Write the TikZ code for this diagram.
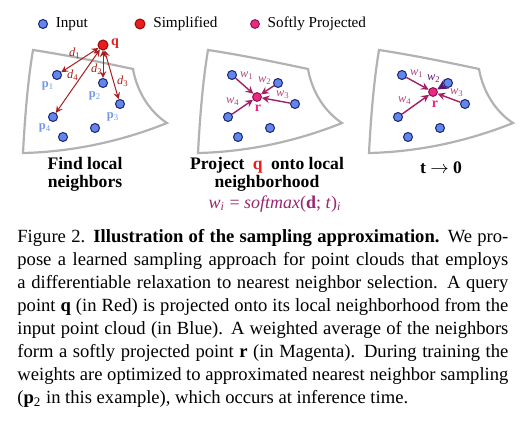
\documentclass[tikz,border=0pt]{standalone}
\usepackage{fontspec}
\setmainfont{Liberation Serif}
\usetikzlibrary{positioning}

\definecolor{ptblue}{RGB}{98,135,232}
\definecolor{ptedge}{RGB}{25,35,120}
\definecolor{qred}{RGB}{232,30,30}
\definecolor{qedge}{RGB}{150,10,10}
\definecolor{rmag}{RGB}{235,40,130}
\definecolor{redge}{RGB}{140,20,80}
\definecolor{patchgray}{RGB}{178,178,178}
\definecolor{dred}{RGB}{170,30,30}
\definecolor{plblue}{RGB}{110,150,232}
\definecolor{wmag}{RGB}{165,30,100}
\definecolor{wlbl}{RGB}{175,70,130}
\definecolor{wdark}{RGB}{85,25,115}
\definecolor{formula}{RGB}{150,40,110}

\begin{document}
\begin{tikzpicture}[x=0.5pt,y=-0.5pt,>=stealth,
  inpt/.style={circle,draw=ptedge,fill=ptblue,line width=0.5pt,minimum size=4.5pt,inner sep=0pt},
  qpt/.style={inpt,draw=qedge,fill=qred,minimum size=5pt},
  rpt/.style={inpt,draw=redge,fill=rmag,minimum size=4.4pt},
  patch/.style={draw=patchgray,line width=1.1pt},
  darrow/.style={<->,draw=dred,line width=0.5pt},
  warrow/.style={->,draw=wmag,line width=0.7pt},
  lbl/.style={font=\fontsize{6.2}{7}\selectfont,inner sep=0pt},
  legtxt/.style={font=\fontsize{7.6}{9}\selectfont,inner sep=0pt},
  title/.style={font=\fontsize{8.8}{9}\bfseries\selectfont,align=center,inner sep=0pt}]
  \useasboundingbox (0,0) rectangle (529,426);

  % Legend
  \node[inpt] (leg1) at (43,24) {};
  \node[legtxt,right=3.7pt of leg1] {Input};
  \node[qpt] (leg2) at (140,24) {};
  \node[legtxt,right=3.7pt of leg2] {Simplified};
  \node[rpt] (leg3) at (255,24) {};
  \node[legtxt,right=3.7pt of leg3] {Softly Projected};

  % Patches
  \foreach \dx in {0,175,346}
    \draw[patch,xshift=\dx*0.5pt] (33,50) .. controls (66,55) and (100,62) .. (133,69)
      .. controls (137,92) and (150,112) .. (167,123)
      .. controls (120,142) and (70,152) .. (23,153)
      .. controls (25,115) and (28,80) .. cycle;

  % Input points
  \foreach \s/\dx in {a/0,b/175,c/345}
    \foreach \n/\x/\y in {1/57/75,2/103/83,3/120/104,4/53/117,5/95/128,6/63/137}
      \node[inpt] (\s\n) at (\x+\dx,\y) {};

  % Find local neighbors
  \node[qpt] (q) at (103,45) {};
  \node[lbl,font=\fontsize{7}{8}\bfseries\selectfont,text=qred] at (115,44) {q};
  \draw[darrow] (q) -- (a1);
  \draw[darrow] (q) -- (a2);
  \draw[darrow] (q) -- (a3);
  \draw[darrow] (q) -- (a4);
  \node[lbl,text=dred] at (75,53) {\textit{d}\textsubscript{1}};
  \node[lbl,text=dred] at (97,69) {\textit{d}\textsubscript{2}};
  \node[lbl,text=dred] at (123,81) {\textit{d}\textsubscript{3}};
  \node[lbl,text=dred] at (73,75) {\textit{d}\textsubscript{4}};
  \node[lbl,text=plblue] at (48,86) {\textbf{p}\textsubscript{1}};
  \node[lbl,text=plblue] at (95,96) {\textbf{p}\textsubscript{2}};
  \node[lbl,text=plblue] at (113,117) {\textbf{p}\textsubscript{3}};
  \node[lbl,text=plblue] at (45,128) {\textbf{p}\textsubscript{4}};
  \node[title,anchor=north] at (85,157) {Find local\\neighbors};

  % Project q onto local neighborhood
  \node[rpt] (r1) at (257,97) {};
  \node[lbl,font=\fontsize{7}{8}\bfseries\selectfont,text=rmag] at (258,108) {r};
  \foreach \n in {1,...,4}
    \draw[warrow] (b\n) -- (r1);
  \node[lbl,text=wlbl] at (247,76) {\textit{w}\textsubscript{1}};
  \node[lbl,text=wlbl] at (265,81) {\textit{w}\textsubscript{2}};
  \node[lbl,text=wlbl] at (283,95) {\textit{w}\textsubscript{3}};
  \node[lbl,text=wlbl] at (233,102) {\textit{w}\textsubscript{4}};
  \node[title,anchor=north] at (267,157) {Project\hspace{2pt} \textcolor{qred}{q}\hspace{2pt} onto local\\neighborhood};
  \node[font=\fontsize{9}{10}\selectfont,text=formula,inner sep=0pt,anchor=base] at (275,209)
    {\textit{w}\textsubscript{\textit{i}} = \textit{softmax}(\textbf{d}; \textit{t})\textsubscript{\textit{i}}};

  % t -> 0
  \node[rpt] (r2) at (433,92) {};
  \node[lbl,font=\fontsize{7}{8}\bfseries\selectfont,text=rmag] at (435,104) {r};
  \draw[warrow] (c1) -- (r2);
  \draw[warrow] (c3) -- (r2);
  \draw[warrow] (c4) -- (r2);
  \draw[->,draw=wdark,line width=1.3pt] (c2) -- (r2);
  \node[lbl,text=wlbl] at (417,74) {\textit{w}\textsubscript{1}};
  \node[lbl,text=wdark] at (434,79) {\textit{w}\textsubscript{2}};
  \node[lbl,text=wlbl] at (457,93) {\textit{w}\textsubscript{3}};
  \node[lbl,text=wlbl] at (405,101) {\textit{w}\textsubscript{4}};
  \node[title,anchor=base] at (441,174) {t $\rightarrow$ 0};

  % Caption
  \node[anchor=base west,text width=245.5pt,align=justify,inner sep=0pt,
    font=\fontsize{9.3}{11.55}\selectfont] (cap) at (17,242.3)
    {Figure 2. \textbf{Illustration of the sampling approximation.} We pro-\linebreak
     pose a learned sampling approach for point clouds that employs\linebreak
     a differentiable relaxation to nearest neighbor selection. A query\linebreak
     point \textbf{q} (in Red) is projected onto its local neighborhood from the\linebreak
     input point cloud (in Blue). A weighted average of the neighbors\linebreak
     form a softly projected point \textbf{r} (in Magenta). During training the\linebreak
     weights are optimized to approximated nearest neighbor sampling\linebreak
     (\textbf{p}\textsubscript{2} in this example), which occurs at inference time.};
\end{tikzpicture}
\end{document}
